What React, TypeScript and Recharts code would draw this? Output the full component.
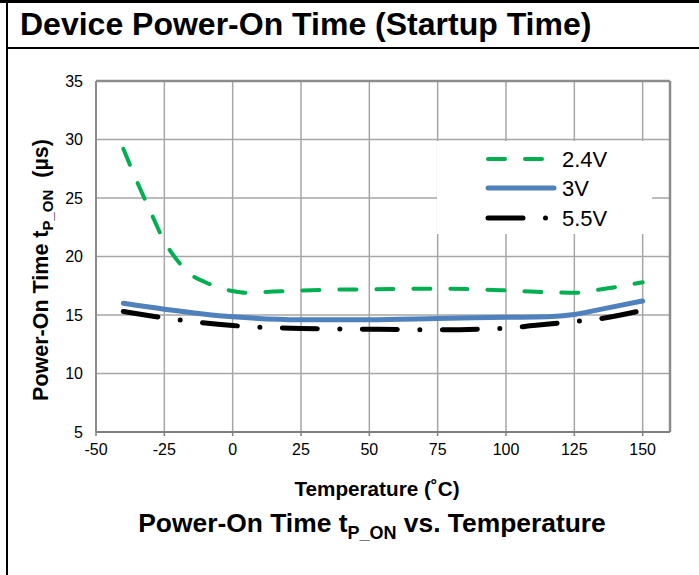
import React from 'react';
import { LineChart, Line, XAxis, YAxis, CartesianGrid, ReferenceLine, Legend } from 'recharts';

// ---- data ----
const temps24 = [-40, -35, -30, -25, -20, -15, -10, -5, 0, 5, 10, 25, 50, 75, 100, 115, 125, 135, 150];
const vals24 = [29.2, 26.4, 23.8, 21.3, 19.6, 18.4, 17.8, 17.35, 17.05, 16.9, 16.95, 17.1, 17.2, 17.25, 17.1, 16.95, 16.9, 17.2, 17.8];

const temps3 = [-40, -25, 0, 25, 50, 75, 100, 115, 125, 135, 150];
const vals3 = [16.0, 15.5, 14.85, 14.6, 14.6, 14.7, 14.8, 14.85, 15.05, 15.5, 16.2];

const temps55 = [-40, -25, 0, 25, 50, 75, 100, 110, 125, 135, 150];
const vals55 = [15.3, 14.75, 14.1, 13.85, 13.78, 13.74, 13.88, 14.1, 14.45, 14.7, 15.4];

const xTicks = [-50, -25, 0, 25, 50, 75, 100, 125, 150];
const yTicks = [5, 10, 15, 20, 25, 30, 35];
const seriesNames = ['2.4V', '3V', '5.5V'];

const toRows = (ts: number[], vs: number[]) => ts.map((t, i) => ({ t, v: vs[i] }));
const d24 = toRows(temps24, vals24);
const d3 = toRows(temps3, vals3);
const d55 = toRows(temps55, vals55);

const FONT = '"Liberation Sans", Arial, sans-serif';
const GREEN = '#00b050';
const BLUE = '#4f81bd';
const BLACK = '#000000';
const DASH_GREEN = '17 20';
const DASH_BLACK = '35 22.5 0 22.5';

const LegendBox = () => (
  <svg width={215} height={93} style={{ display: 'block' }}>
    <rect x={0} y={0} width={215} height={93} fill="#ffffff" />
    <line x1={51} x2={118} y1={18} y2={18} stroke={GREEN} strokeWidth={4} strokeDasharray={DASH_GREEN} strokeLinecap="round" />
    <line x1={51} x2={117} y1={47} y2={47} stroke={BLUE} strokeWidth={5} strokeLinecap="round" />
    <line x1={51} x2={118} y1={77} y2={77} stroke={BLACK} strokeWidth={5} strokeDasharray={DASH_BLACK} strokeLinecap="round" />
    <text x={125} y={26} fontSize={22} fontFamily={FONT} fill="#000">{seriesNames[0]}</text>
    <text x={125} y={55} fontSize={22} fontFamily={FONT} fill="#000">{seriesNames[1]}</text>
    <text x={125} y={85} fontSize={22} fontFamily={FONT} fill="#000">{seriesNames[2]}</text>
  </svg>
);

const YLabel = () => (
  <text
    transform="translate(48,270) rotate(-90)"
    textAnchor="middle"
    fontWeight="bold"
    fontSize={21.5}
    fontFamily={FONT}
    fill="#000"
  >
    Power-On Time t<tspan fontSize={15} dy={5}>P_ON</tspan>
    <tspan dy={-5}>{'\u00a0\u00a0(µs)'}</tspan>
  </text>
);

const XLabel = () => (
  <text x={377} y={496} textAnchor="middle" fontWeight="bold" fontSize={20.7} fontFamily={FONT} fill="#000">
    Temperature (˚C)
  </text>
);

export default function App() {
  return (
    <div
      style={{
        position: 'absolute',
        left: 0,
        top: 0,
        width: 699,
        height: 575,
        background: '#fff',
        fontFamily: FONT,
        overflow: 'hidden',
      }}
    >
      {/* frame */}
      <div style={{ position: 'absolute', left: 0, top: 0, width: 699, height: 2.5, background: '#000' }} />
      <div style={{ position: 'absolute', left: 6, top: 0, width: 2, height: 575, background: '#000' }} />
      <div style={{ position: 'absolute', left: 6, top: 46.5, width: 693, height: 2.5, background: '#000' }} />
      <div
        style={{
          position: 'absolute',
          left: 20,
          top: 4,
          fontSize: 32,
          fontWeight: 'bold',
          lineHeight: '40px',
          whiteSpace: 'nowrap',
          color: '#000',
        }}
      >
        Device Power-On Time (Startup Time)
      </div>

      <div style={{ position: 'absolute', left: 0, top: 0 }}>
        <LineChart width={699} height={575} margin={{ top: 81, right: 29, bottom: 113, left: 0 }}>
          <CartesianGrid stroke="#a6a6a6" strokeWidth={1.5} />
          <XAxis
            type="number"
            dataKey="t"
            domain={[-50, 160]}
            ticks={xTicks}
            allowDataOverflow
            height={30}
            axisLine={{ stroke: '#7f7f7f', strokeWidth: 2 }}
            tickLine={{ stroke: '#7f7f7f', strokeWidth: 1.5 }}
            tickSize={4}
            tickMargin={8}
            tick={{ fill: '#000', fontSize: 16, fontFamily: FONT }}
            label={<XLabel />}
          />
          <YAxis
            type="number"
            domain={[5, 35]}
            ticks={yTicks}
            width={96}
            axisLine={{ stroke: '#8c8c8c', strokeWidth: 2 }}
            tickLine={false}
            tickSize={0}
            tickMargin={13}
            tick={{ fill: '#000', fontSize: 16, fontFamily: FONT }}
            label={<YLabel />}
          />
          <ReferenceLine y={35} stroke="#8c8c8c" strokeWidth={2.5} />
          <ReferenceLine x={160} stroke="#8c8c8c" strokeWidth={2.5} />
          <Legend
            layout="horizontal"
            verticalAlign="middle"
            align="center"
            wrapperStyle={{ position: 'absolute', left: 437, top: 141, width: 215, height: 93, margin: 0, padding: 0 }}
            content={() => <LegendBox />}
          />
          <Line data={d24} dataKey="v" name={seriesNames[0]} type="monotone" stroke={GREEN} strokeWidth={4}
            strokeDasharray={DASH_GREEN} strokeLinecap="round" dot={false} activeDot={false} isAnimationActive={false} />
          <Line data={d3} dataKey="v" name={seriesNames[1]} type="monotone" stroke={BLUE} strokeWidth={5}
            strokeLinecap="round" dot={false} activeDot={false} isAnimationActive={false} />
          <Line data={d55} dataKey="v" name={seriesNames[2]} type="monotone" stroke={BLACK} strokeWidth={5}
            strokeDasharray={DASH_BLACK} strokeLinecap="round" dot={false} activeDot={false} isAnimationActive={false} />
        </LineChart>
      </div>

      <div
        style={{
          position: 'absolute',
          left: 0,
          width: 744,
          top: 507,
          textAlign: 'center',
          fontSize: 26.4,
          fontWeight: 'bold',
          lineHeight: '32px',
          whiteSpace: 'nowrap',
          color: '#000',
        }}
      >
        Power-On Time t<sub style={{ fontSize: 18, verticalAlign: '-7px', lineHeight: 0 }}>P_ON</sub> vs. Temperature
      </div>
    </div>
  );
}
